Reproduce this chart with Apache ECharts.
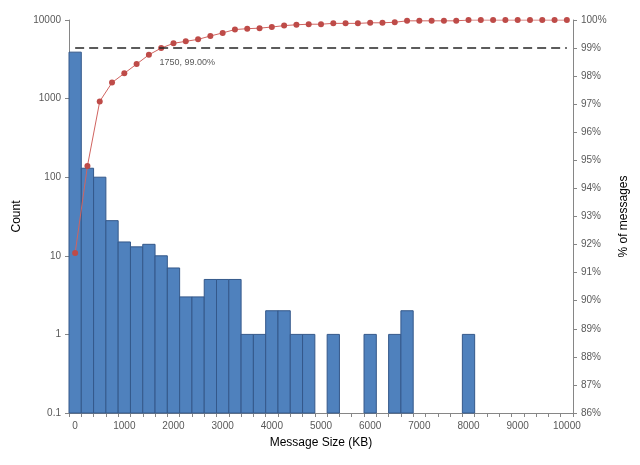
<!DOCTYPE html>
<html>
<head>
<meta charset="utf-8">
<script src="https://cdn.jsdelivr.net/npm/echarts@6/dist/echarts.min.js"></script>
<style>html,body{margin:0;padding:0;background:#fff;}#c{width:640px;height:465px;}</style>
</head>
<body>
<div id="c"></div>
<script>
var sizes = ['0','250','500','750','1000','1250','1500','1750','2000','2250','2500','2750','3000','3250','3500','3750','4000','4250','4500','4750','5000','5250','5500','5750','6000','6250','6500','6750','7000','7250','7500','7750','8000','8250','8500','8750','9000','9250','9500','9750','10000'];
var counts = [3900,130,100,28,15,13,14,10,7,3,3,5,5,5,1,1,2,2,1,1,null,1,null,null,1,null,1,2,null,null,null,null,1,null,null,null,null,null,null,null,null];
var cumulativePct = [91.7,94.8,97.1,97.77,98.1,98.43,98.76,99.0,99.17,99.24,99.31,99.43,99.54,99.66,99.69,99.71,99.75,99.8,99.83,99.85,99.85,99.88,99.88,99.88,99.9,99.9,99.92,99.97,99.97,99.97,99.97,99.97,100,100,100,100,100,100,100,100,100];
var countAxisMin = 0.1;
var countAxisMax = 10000;
var thresholdPct = 99;
var markedIndex = 7;
var markedText = '1750, 99.00%';

var font = 'Liberation Sans';
var lineData = cumulativePct.map(function (v, i) {
  if (i === markedIndex) {
    return { value: v, label: { show: true, formatter: markedText, position: 'bottom', offset: [26, 2], fontSize: 9, color: '#595959', fontFamily: font } };
  }
  return v;
});
var barData = [];
counts.forEach(function (c, i) { if (c != null) barData.push([i, c]); });

function renderBar(params, api) {
  var idx = api.value(0);
  var top = api.coord([idx, api.value(1)]);
  var bottom = api.coord([idx, countAxisMin]);
  var w = api.size([1, 1])[0];
  return {
    type: 'rect',
    shape: { x: top[0] - w / 2, y: top[1], width: w, height: bottom[1] - top[1] },
    style: { fill: '#4F81BD', stroke: '#34588A', lineWidth: 1 }
  };
}

var chart = echarts.init(document.getElementById('c'));
chart.setOption({
  animation: false,
  backgroundColor: '#fff',
  grid: { left: 69, right: 67, top: 20, bottom: 52 },
  xAxis: {
    type: 'category',
    data: sizes,
    name: 'Message Size (KB)',
    nameLocation: 'middle',
    nameGap: 24,
    nameTextStyle: { fontSize: 12, color: '#000', fontFamily: font },
    axisLine: { lineStyle: { color: '#868686' } },
    axisTick: { show: true, interval: 0, length: 4, lineStyle: { color: '#868686' } },
    axisLabel: { interval: 3, fontSize: 10, color: '#595959', fontFamily: font, margin: 8 },
    splitLine: { show: false }
  },
  yAxis: [
    {
      type: 'log',
      logBase: 10,
      min: countAxisMin,
      max: countAxisMax,
      name: 'Count',
      nameLocation: 'middle',
      nameGap: 43,
      nameRotate: 90,
      nameTextStyle: { fontSize: 12, color: '#000', fontFamily: font },
      axisLine: { show: true, lineStyle: { color: '#868686' } },
      axisTick: { show: true, length: 4, lineStyle: { color: '#868686' } },
      axisLabel: { fontSize: 10, color: '#595959', fontFamily: font, margin: 8, formatter: function (v) { return String(+v.toPrecision(3)); } },
      splitLine: { show: false }
    },
    {
      type: 'value',
      min: 86,
      max: 100,
      interval: 1,
      name: '% of messages',
      nameLocation: 'middle',
      nameGap: 42,
      nameRotate: 90,
      nameTextStyle: { fontSize: 12, color: '#000', fontFamily: font },
      axisLine: { show: true, lineStyle: { color: '#868686' } },
      axisTick: { show: true, length: 4, lineStyle: { color: '#868686' } },
      axisLabel: { fontSize: 10, color: '#595959', fontFamily: font, margin: 8, formatter: '{value}%' },
      splitLine: { show: false }
    }
  ],
  series: [
    {
      type: 'custom',
      yAxisIndex: 0,
      data: barData,
      renderItem: renderBar,
      encode: { x: 0, y: 1 },
      z: 1
    },
    {
      type: 'line',
      yAxisIndex: 1,
      data: lineData,
      symbol: 'circle',
      symbolSize: 6,
      itemStyle: { color: '#BE4B48' },
      lineStyle: { color: '#D06460', width: 1 },
      z: 3,
      markLine: {
        silent: true,
        symbol: 'none',
        label: { show: false },
        lineStyle: { color: '#262626', width: 1.5, type: [9, 5] },
        data: [[{ coord: [sizes[0], thresholdPct] }, { coord: [sizes[sizes.length - 1], thresholdPct] }]]
      }
    }
  ]
});
</script>
</body>
</html>
